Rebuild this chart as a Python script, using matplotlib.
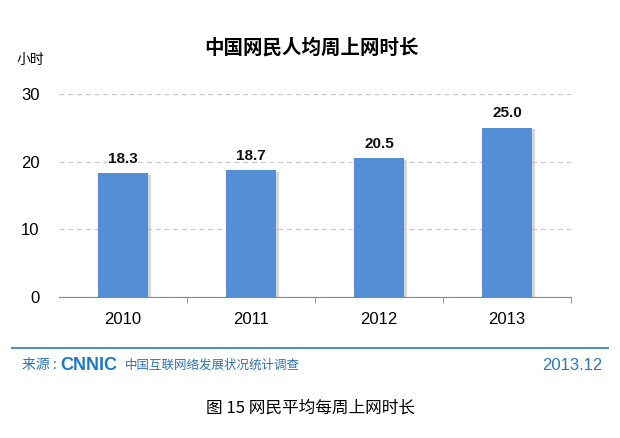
import matplotlib.pyplot as plt
import matplotlib.patheffects as pe

plt.rcParams['font.family'] = ['Noto Sans CJK SC', 'DejaVu Sans']

years = ['2010', '2011', '2012', '2013']
hours = [18.3, 18.7, 20.5, 25.0]
yticks = [0, 10, 20, 30]

bar_color = '#558ED5'
blue = '#2E75B6'
num_font = 'Liberation Sans'

fig = plt.figure(figsize=(6.2, 4.38), dpi=100)

ax = fig.add_axes([59 / 620, 141 / 438, 512 / 620, 203 / 438])
x = range(len(years))
ax.bar(x, hours, width=0.39, color=bar_color, zorder=3,
       path_effects=[pe.SimplePatchShadow(offset=(2, -1), shadow_rgbFace='#bbbbbb', alpha=0.6),
                     pe.Normal()])
for xi, v in zip(x, hours):
    ax.text(xi, v + 1.1, f'{v:.1f}', ha='center', va='bottom', fontsize=11,
            fontweight='bold', family=num_font, color='#111111')

ax.set_xlim(-0.5, len(years) - 0.5)
ax.set_ylim(0, 30)
ax.set_yticks(yticks)
ax.set_yticklabels([str(t) for t in yticks], fontsize=12, family=num_font)
ax.set_xticks(x)
ax.set_xticklabels(years, fontsize=12, family=num_font)
ax.set_xticks([0.5, 1.5, 2.5, 3.5], minor=True)
ax.tick_params(axis='x', which='major', length=0, pad=11)
ax.tick_params(axis='x', which='minor', length=4, color='#888888')
ax.tick_params(axis='y', length=0, pad=14)
ax.grid(axis='y', linestyle=(0, (4, 3)), color='#c8c8c8', linewidth=0.9, zorder=1)
for s in ['top', 'right', 'left']:
    ax.spines[s].set_visible(False)
ax.spines['bottom'].set_color('#888888')

fig.text(311 / 620, 1 - 48 / 438, '中国网民人均周上网时长', ha='center', va='center',
         fontsize=14, fontweight='bold')
fig.text(30 / 620, 1 - 60 / 438, '小时', ha='center', va='center', fontsize=10)

fig.add_artist(plt.Line2D([12 / 620, 608 / 620], [1 - 348 / 438, 1 - 348 / 438],
                          color=bar_color, linewidth=1.5))
fig.text(22 / 620, 1 - 365 / 438, '来源 :', ha='left', va='center', fontsize=10, color=blue)
fig.text(60 / 620, 1 - 365 / 438, 'CNNIC', ha='left', va='center', fontsize=13,
         fontweight='bold', color='#1A7AC0', family=num_font)
fig.text(125 / 620, 1 - 365 / 438, '中国互联网络发展状况统计调查', ha='left', va='center',
         fontsize=9, color=blue)
fig.text(602 / 620, 1 - 365 / 438, '2013.12', ha='right', va='center', fontsize=12,
         color=blue, family=num_font)
fig.text(310 / 620, 1 - 408 / 438, '图 15 网民平均每周上网时长', ha='center', va='center',
         fontsize=12)

fig.savefig('out.png', dpi=100)
